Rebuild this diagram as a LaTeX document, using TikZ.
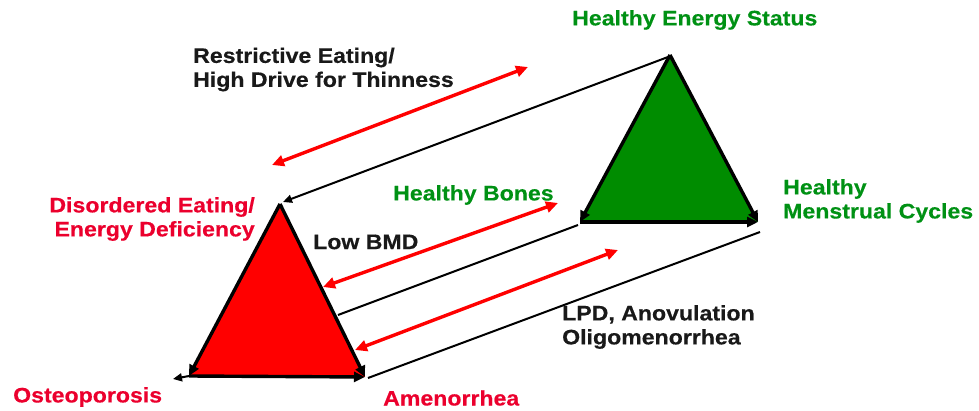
\documentclass[tikz,border=0pt]{standalone}
\usepackage{fontspec}
\setmainfont{Liberation Sans}[FakeStretch=1.1]
\usetikzlibrary{arrows.meta}
\definecolor{fillred}{RGB}{255,0,0}
\definecolor{txtred}{RGB}{235,0,45}
\definecolor{fillgreen}{RGB}{0,140,0}
\definecolor{txtgreen}{RGB}{0,145,20}
\definecolor{txtblack}{RGB}{25,25,25}
\begin{document}
\begin{tikzpicture}[x=1pt,y=-1pt,
  lbl/.style={font=\fontsize{21}{24}\selectfont\bfseries\addfontfeature{FakeBold=0.4}, inner sep=0pt, text=txtblack},
  edgearr/.style={line width=3.4pt, -{Triangle[length=11pt,width=10pt]}},
  thinline/.style={line width=2pt},
  thinarr/.style={line width=2pt, -{Triangle[length=9pt,width=8pt]}},
  redarr/.style={line width=3.4pt, fillred, {Triangle[length=12pt,width=11pt]}-{Triangle[length=12pt,width=11pt]}}]
\useasboundingbox (0,0) rectangle (979,411);

% triangle vertices
\coordinate (R1) at (280,204);
\coordinate (R2) at (189,376);
\coordinate (R3) at (365,377);
\coordinate (O1) at (173,379);
\coordinate (G1) at (670,55);
\coordinate (G2) at (580,222);
\coordinate (G3) at (758,222);

% connecting line end points
\coordinate (A1) at (668,57);
\coordinate (A2) at (283,202);
\coordinate (B1) at (578,225);
\coordinate (B2) at (338,315);
\coordinate (C1) at (760,232);
\coordinate (C2) at (368,378);

% red double arrow end points
\coordinate (D1) at (272,165);
\coordinate (D2) at (528,67);
\coordinate (E1) at (323,287);
\coordinate (E2) at (558,203);
\coordinate (F1) at (355,350);
\coordinate (F2) at (618,250);

% triangles
\fill[fillred] (R1) -- (R2) -- (R3) -- cycle;
\fill[fillgreen] (G1) -- (G2) -- (G3) -- cycle;
\draw[edgearr] (R1) -- (R2);
\draw[edgearr] (R1) -- (R3);
\draw[edgearr] (R2) -- (R3);
\draw[thinarr] (R2) -- (O1);
\draw[edgearr] (G1) -- (G2);
\draw[edgearr] (G1) -- (G3);
\draw[edgearr] (G2) -- (G3);

% connecting lines
\draw[thinarr] (A1) -- (A2);
\draw[thinline] (B1) -- (B2);
\draw[thinline] (C1) -- (C2);

% red double arrows
\draw[redarr] (D1) -- (D2);
\draw[redarr] (E1) -- (E2);
\draw[redarr] (F1) -- (F2);

% labels
\node[lbl, text=txtgreen, anchor=west] (hes) at (572,20) {Healthy Energy Status};
\node[lbl, anchor=west, align=left] (rest) at (193,69.5) {Restrictive Eating/\\High Drive for Thinness};
\node[lbl, text=txtred, anchor=east, align=right] (dis) at (255,219) {Disordered Eating/\\Energy Deficiency};
\node[lbl, text=txtgreen, anchor=west] (hb) at (393,195) {Healthy Bones};
\node[lbl, text=txtgreen, anchor=west, align=left] (hmc) at (783,201) {Healthy\\Menstrual Cycles};
\node[lbl, anchor=west] (bmd) at (313,242) {Low BMD};
\node[lbl, anchor=west, align=left] (lpd) at (562,327) {LPD, Anovulation\\Oligomenorrhea};
\node[lbl, text=txtred, anchor=west] (ost) at (13,397) {Osteoporosis};
\node[lbl, text=txtred, anchor=west] (ame) at (383,398) {Amenorrhea};
\end{tikzpicture}
\end{document}
